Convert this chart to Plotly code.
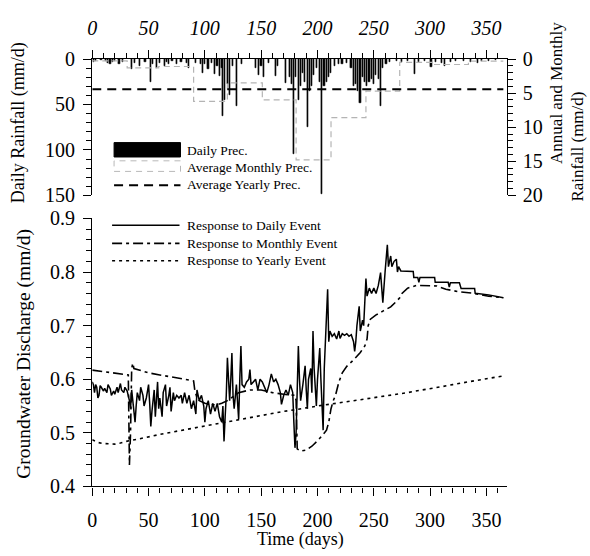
import plotly.graph_objects as go

W, H = 590, 556

# ---------------- data ----------------
rain_days = [1, 3, 8, 12, 14, 16, 18, 20, 24, 27, 35, 38, 42, 47, 52, 54, 57, 60, 64, 66, 68, 71, 75, 79, 84, 86,
             92, 96, 98, 100, 103, 106, 109, 111, 113, 115, 116, 118, 120, 122, 125, 128, 133, 145, 148, 150, 152,
             157, 163, 165, 172, 175, 177, 179, 181, 183, 185, 187, 189, 191, 193, 195, 197, 199, 202, 204, 206,
             208, 210, 212, 215, 219, 222, 226, 230, 232, 234, 236, 238, 240, 242, 244, 246, 248, 250, 252, 254,
             256, 258, 261, 264, 270, 275, 280, 286, 290, 295, 301, 305, 310, 313, 318, 323, 330, 336, 342, 346,
             352, 358]
rain_mm = [3, 2, 1.5, 2, 4, 5, 3, 2, 6, 3, 11, 4, 8, 3, 25, 6, 10, 4, 8, 3, 6, 2, 6, 3, 4, 10,
           4, 6, 15, 5, 11, 4, 17, 8, 19, 10, 63, 45, 28, 40, 8, 52, 5, 10, 18, 8, 20,
           4, 19, 8, 26, 20, 28, 105, 20, 45, 30, 15, 25, 75, 35, 30, 18, 10, 25, 148, 30,
           25, 20, 15, 8, 6, 5, 4, 10, 30, 28, 35, 48, 20, 25, 30, 25, 22, 28, 18, 22,
           52, 10, 5, 3, 2, 3, 2, 16, 3, 2, 9, 3, 4, 8, 3, 2, 2, 3, 4, 2,
           2, 1]

month_start = [0, 31, 59, 90, 120, 151, 181, 212, 243, 273, 304, 334, 365]
month_avg = [0.27, 1.3, 1.1, 6.2, 3.5, 6.0, 14.8, 8.6, 4.7, 0.5, 0.8, 0.3]   # mm/d
year_avg = 4.45  # mm/d

daily_days = [0, 1, 2, 3, 4, 5, 6, 7, 8, 10, 11, 13, 14, 16, 17, 19, 20, 22, 23, 25, 26, 28, 29, 31, 33, 34, 35,
              36, 38, 39, 40, 42, 43, 45, 46, 48, 50, 51, 52, 53, 55, 56, 57, 58, 59, 60, 62, 63, 65, 66, 68, 69,
              70, 72, 73, 75, 77, 79, 80, 82, 84, 86, 88, 90, 92, 93, 95, 97, 99, 100, 101, 103, 105, 107, 109,
              111, 113, 115, 116, 117, 118, 119, 120, 121, 122, 123, 124, 125, 126, 128, 130, 131, 132, 133, 135,
              137, 139, 140, 141, 143, 145, 147, 149, 151, 153, 155, 157, 159, 161, 163, 165, 167, 168, 170, 172,
              174, 176, 178, 179, 180, 181, 182, 183, 184, 185, 187, 189, 190, 191, 192, 194, 195, 196, 197, 198,
              199, 200, 201, 202, 203, 204, 205, 206, 207, 208, 209, 210, 211, 213, 215, 217, 219, 220, 222, 224,
              226, 228, 230, 232, 233, 234, 235, 237, 238, 240, 241, 243, 244, 246, 248, 250, 252, 254, 256, 258,
              259, 260, 262, 263, 264, 265, 266, 268, 270, 271, 272, 274, 285, 285.5, 289, 290, 291, 304, 304.5,
              316, 317, 318, 326, 327.5, 339.5, 340, 352, 358, 365]
daily_resp = [0.595, 0.59, 0.575, 0.59, 0.585, 0.565, 0.57, 0.588, 0.585, 0.578, 0.583, 0.575, 0.59, 0.582, 0.57,
              0.578, 0.572, 0.585, 0.575, 0.592, 0.58, 0.575, 0.585, 0.578, 0.56, 0.545, 0.58,
              0.555, 0.52, 0.55, 0.575, 0.56, 0.585, 0.57, 0.55, 0.565, 0.59, 0.555, 0.512, 0.54, 0.58, 0.53, 0.56,
              0.595, 0.545, 0.565, 0.53, 0.575, 0.59, 0.55, 0.57, 0.585,
              0.54, 0.575, 0.56, 0.57, 0.565, 0.57, 0.555, 0.575, 0.555, 0.57, 0.545, 0.56, 0.535, 0.58, 0.56, 0.57,
              0.55, 0.52, 0.545, 0.56, 0.535, 0.555, 0.54,
              0.555, 0.53, 0.52, 0.55, 0.484, 0.53, 0.57, 0.64, 0.58, 0.56, 0.6, 0.649, 0.57, 0.545, 0.59, 0.525,
              0.6, 0.662, 0.59, 0.585,
              0.595, 0.6, 0.618, 0.59, 0.595, 0.6, 0.58, 0.6, 0.595, 0.585, 0.575, 0.59, 0.61, 0.595, 0.6, 0.59,
              0.575, 0.553, 0.57, 0.58,
              0.57, 0.59, 0.575, 0.52, 0.472, 0.5, 0.58, 0.662, 0.6, 0.56, 0.59, 0.625, 0.58, 0.545, 0.6, 0.62,
              0.575, 0.69, 0.62, 0.58,
              0.55, 0.6, 0.64, 0.658, 0.6, 0.55, 0.505, 0.62, 0.68, 0.72, 0.768, 0.67, 0.69, 0.68, 0.685, 0.675,
              0.69, 0.676, 0.685, 0.682,
              0.685, 0.68, 0.683, 0.67, 0.652, 0.67, 0.7, 0.736, 0.69, 0.71, 0.7, 0.788, 0.755, 0.77, 0.76, 0.77,
              0.76, 0.775, 0.799, 0.743,
              0.78, 0.8, 0.851, 0.81, 0.82, 0.83, 0.81, 0.82, 0.824, 0.8, 0.81, 0.802, 0.801, 0.79, 0.79, 0.781,
              0.79, 0.79, 0.781,
              0.781, 0.772, 0.78, 0.78, 0.7695, 0.7695, 0.7605, 0.7574, 0.755, 0.752]

monthly_days = [0, 10, 20, 30, 32, 33, 34, 35, 36, 37, 40, 50, 60, 70, 80, 90, 91, 93, 95, 100, 105, 110, 115, 120,
                130, 140, 150, 160, 170, 180, 181, 182, 185, 190, 195, 200, 205, 208, 210, 212, 214, 216, 219, 222,
                226, 232, 238, 242, 244, 245, 247, 252, 258, 265, 270, 273, 275, 280, 288, 298, 306, 314, 326, 338,
                352, 365]
monthly_resp = [0.617, 0.614, 0.612, 0.609, 0.608, 0.44, 0.5, 0.62, 0.63, 0.62, 0.618, 0.612, 0.608, 0.604, 0.601,
                0.597, 0.58, 0.565, 0.56, 0.555, 0.553, 0.552, 0.555, 0.56,
                0.575, 0.58, 0.58, 0.575, 0.572, 0.57, 0.56, 0.47, 0.466, 0.468, 0.475, 0.485, 0.497, 0.505, 0.52,
                0.545, 0.56, 0.57, 0.595, 0.612,
                0.624, 0.636, 0.65, 0.662, 0.675, 0.70, 0.712, 0.72, 0.727, 0.735, 0.745, 0.752, 0.76, 0.77, 0.775,
                0.775, 0.774, 0.768, 0.763, 0.7605,
                0.755, 0.752]

yearly_days = [0, 5, 10, 15, 20, 25, 30, 40, 50, 60, 70, 80, 90, 100, 110, 120, 130, 140, 150, 160, 170, 180, 190,
               200, 210, 220, 230, 240, 250, 260, 270, 280, 290, 300, 310, 320, 330, 340, 350, 365]
yearly_resp = [0.487, 0.482, 0.48, 0.479, 0.479, 0.481, 0.484, 0.488, 0.493, 0.497, 0.501, 0.505, 0.508, 0.512,
               0.516, 0.52, 0.524, 0.528, 0.532, 0.536, 0.54, 0.543, 0.547, 0.55, 0.553, 0.556, 0.559, 0.562, 0.565,
               0.568, 0.571, 0.575, 0.579, 0.582, 0.586, 0.59, 0.594, 0.597, 0.601, 0.606]

# ---------------- helpers ----------------
def px(x):
    return x / W

def py(y):
    return 1 - y / H

FONT = "Liberation Serif, Times New Roman, serif"
TICK = 20
XD = [px(88), px(506)]
TOP_D = [py(192), py(50)]
BOT_D = [py(495), py(216)]

fig = go.Figure()

# top panel
fig.add_trace(go.Bar(x=rain_days, y=rain_mm, width=1.0, marker=dict(color="black", line=dict(color="black", width=0.6)),
                     xaxis="x", yaxis="y", showlegend=False))
mx = month_start
my = month_avg + [month_avg[-1]]
fig.add_trace(go.Scatter(x=mx, y=my, mode="lines", line=dict(color="#b4b4b4", width=1.2, dash="6px,4px", shape="hv"),
                         xaxis="x", yaxis="y2", showlegend=False))
fig.add_trace(go.Scatter(x=[0, 365], y=[year_avg, year_avg], mode="lines",
                         line=dict(color="black", width=2, dash="9px,6px"),
                         xaxis="x", yaxis="y2", showlegend=False))

# bottom panel
fig.add_trace(go.Scatter(x=yearly_days, y=yearly_resp, mode="lines", line=dict(color="black", width=1.6, dash="3px,4px"),
                         xaxis="x2", yaxis="y3", showlegend=False))
fig.add_trace(go.Scatter(x=monthly_days, y=monthly_resp, mode="lines",
                         line=dict(color="black", width=1.6, dash="10px,4px,3px,4px"),
                         xaxis="x2", yaxis="y3", showlegend=False))
fig.add_trace(go.Scatter(x=daily_days, y=daily_resp, mode="lines", line=dict(color="black", width=1.5),
                         xaxis="x2", yaxis="y3", showlegend=False))

tick_common = dict(ticks="outside", tickcolor="black", tickwidth=1.2, showline=True, linecolor="black", linewidth=1.3,
                   showgrid=False, zeroline=False)
minor_x = dict(dtick=10, ticklen=5, ticks="outside", tickcolor="black", tickwidth=1)

fig.update_layout(
    width=W, height=H, margin=dict(l=0, r=0, t=0, b=0),
    paper_bgcolor="white", plot_bgcolor="white",
    font=dict(family=FONT, color="black", size=TICK),
    bargap=0,
    xaxis=dict(domain=XD, anchor="y", side="top", range=[0, 368], dtick=50, tick0=0, ticklen=8, ticklabelstandoff=7,
               minor=minor_x, tickfont=dict(family=FONT, size=TICK, style="italic"), **tick_common),
    yaxis=dict(domain=TOP_D, anchor="x", range=[150, 0], dtick=50, ticklen=8, ticklabelstandoff=4,
               minor=dict(dtick=10, ticklen=5, ticks="outside", tickcolor="black", tickwidth=1),
               tickfont=dict(family=FONT, size=TICK), **tick_common),
    yaxis2=dict(overlaying="y", anchor="x", side="right", range=[20, 0], dtick=5, ticklen=8, ticklabelstandoff=3,
                minor=dict(dtick=1, ticklen=5, ticks="outside", tickcolor="black", tickwidth=1),
                tickfont=dict(family=FONT, size=TICK), **tick_common),
    xaxis2=dict(domain=XD, anchor="y3", range=[0, 368], dtick=50, tick0=0, ticklen=8, ticklabelstandoff=7,
                minor=minor_x, tickfont=dict(family=FONT, size=TICK), **tick_common),
    yaxis3=dict(domain=BOT_D, anchor="x2", range=[0.4, 0.9], dtick=0.1, tickformat=".1f", ticklen=8,
                ticklabelstandoff=4,
                minor=dict(dtick=0.02, ticklen=5, ticks="outside", tickcolor="black", tickwidth=1),
                tickfont=dict(family=FONT, size=TICK), **tick_common),
)

shapes = []
ann = []

def text(x, y, s, size=13.5, angle=0, xanchor="left"):
    ann.append(dict(x=px(x), y=py(y), xref="paper", yref="paper", text=s, showarrow=False, textangle=angle,
                    xanchor=xanchor, yanchor="middle", font=dict(family=FONT, size=size, color="black")))

# axis titles
text(14, 116, "Daily Rainfall (mm/d)", size=18, angle=-90, xanchor="center")
text(556, 85, "Annual and Monthly", size=17, angle=-90, xanchor="center")
text(577, 141, "Rainfall (mm/d)", size=17, angle=-90, xanchor="center")
text(19, 357, "Groundwater Discharge (mm/d)", size=19.5, angle=-90, xanchor="center")
text(298, 550, "Time (days)", size=18, xanchor="center")

# top legend
shapes.append(dict(type="rect", xref="paper", yref="paper", x0=px(110), x1=px(177), y0=py(152), y1=py(137),
                   fillcolor="black", line=dict(color="black", width=1)))
shapes.append(dict(type="rect", xref="paper", yref="paper", x0=px(110), x1=px(177), y0=py(167), y1=py(156),
                   fillcolor="rgba(0,0,0,0)", line=dict(color="#b8b8b8", width=1, dash="6px,5px")))
shapes.append(dict(type="line", xref="paper", yref="paper", x0=px(110), x1=px(177), y0=py(181.5), y1=py(181.5),
                   line=dict(color="black", width=2, dash="9px,6px")))
text(182, 145, "Daily Prec.")
text(182, 163, "Average Monthly Prec.")
text(182, 181, "Average Yearly Prec.")

# bottom legend
shapes.append(dict(type="line", xref="paper", yref="paper", x0=px(108), x1=px(176), y0=py(223), y1=py(223),
                   line=dict(color="black", width=1.5)))
shapes.append(dict(type="line", xref="paper", yref="paper", x0=px(108), x1=px(176), y0=py(242), y1=py(242),
                   line=dict(color="black", width=1.6, dash="10px,4px,3px,4px")))
shapes.append(dict(type="line", xref="paper", yref="paper", x0=px(108), x1=px(176), y0=py(260), y1=py(260),
                   line=dict(color="black", width=1.6, dash="3px,4px")))
text(182, 223, "Response to Daily Event")
text(182, 242, "Response to Monthly Event")
text(182, 260, "Response to Yearly Event")

fig.update_layout(shapes=shapes, annotations=ann)
fig.write_html("out.html")
